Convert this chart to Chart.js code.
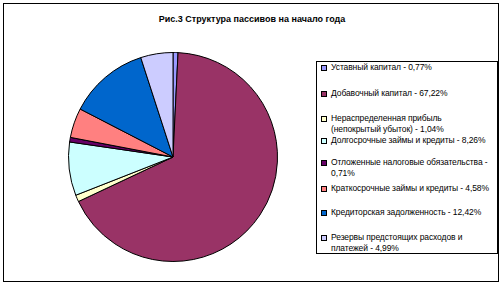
<!DOCTYPE html>
<html>
<head>
<meta charset="utf-8">
<script src="https://cdn.jsdelivr.net/npm/chart.js@4/dist/chart.umd.min.js"></script>
<style>
  html, body { margin: 0; padding: 0; background: #fff; }
  body { width: 504px; height: 286px; position: relative; overflow: hidden;
         font-family: "Liberation Sans", Arial, sans-serif; }
  #frame { position: absolute; left: 3px; top: 3px; width: 496px; height: 279px;
           border: 1px solid #000; box-sizing: border-box; }
  #title { position: absolute; left: 0; width: 504px; top: 13px; text-align: center;
           font-size: 9px; font-weight: bold; line-height: 12px; color: #000; }
  #pieBox { position: absolute; left: 68px; top: 52px; width: 210px; height: 210px; }
  #legend { position: absolute; left: 316px; top: 61px; width: 182px; height: 193px;
            border: 1px solid #000; box-sizing: border-box; }
  .item { position: absolute; left: 0; width: 180px; font-size: 8.5px; line-height: 10.5px;
          color: #000; white-space: pre-line; }
  .item span.box { position: absolute; left: 4px; top: 3px; width: 4px; height: 4px;
                   border: 1px solid #000; }
  .item span.txt { display: block; margin-left: 14px; width: 165px; letter-spacing: -0.1px; }
</style>
</head>
<body>
<div id="frame"></div>
<div id="title">Рис.3 Структура пассивов на начало года</div>
<div id="pieBox"><canvas id="pie"></canvas></div>
<div id="legend"></div>
<script>
const categories = [
  'Уставный капитал',
  'Добавочный капитал',
  'Нераспределенная прибыль\n(непокрытый убыток)',
  'Долгосрочные займы и кредиты',
  'Отложенные налоговые обязательства',
  'Краткосрочные займы и кредиты',
  'Кредиторская задолженность',
  'Резервы предстоящих расходов и платежей'
];
const shares = [0.77, 67.22, 1.04, 8.26, 0.71, 4.58, 12.42, 4.99];
const colors = ['#9999FF', '#993366', '#FFFFCC', '#CCFFFF', '#660066', '#FF8080', '#0066CC', '#CCCCFF'];

// legend row tops inside the box (px)
const legendTops = [0, 26, 51, 73, 95, 121, 145, 170];

new Chart(document.getElementById('pie'), {
  type: 'pie',
  data: {
    labels: categories,
    datasets: [{
      data: shares,
      backgroundColor: colors,
      borderColor: '#000',
      borderWidth: 1
    }]
  },
  options: {
    responsive: true,
    maintainAspectRatio: false,
    animation: false,
    layout: { padding: 0 },
    plugins: {
      legend: { display: false },
      tooltip: { enabled: false }
    }
  }
});

function fmt(v) {
  return v.toFixed(2).replace('.', ',') + '%';
}

const legend = document.getElementById('legend');
categories.forEach((cat, i) => {
  const item = document.createElement('div');
  item.className = 'item';
  item.style.top = legendTops[i] + 'px';
  const box = document.createElement('span');
  box.className = 'box';
  box.style.background = colors[i];
  const txt = document.createElement('span');
  txt.className = 'txt';
  txt.innerText = cat + ' - ' + fmt(shares[i]);
  item.appendChild(box);
  item.appendChild(txt);
  legend.appendChild(item);
});
</script>
</body>
</html>
